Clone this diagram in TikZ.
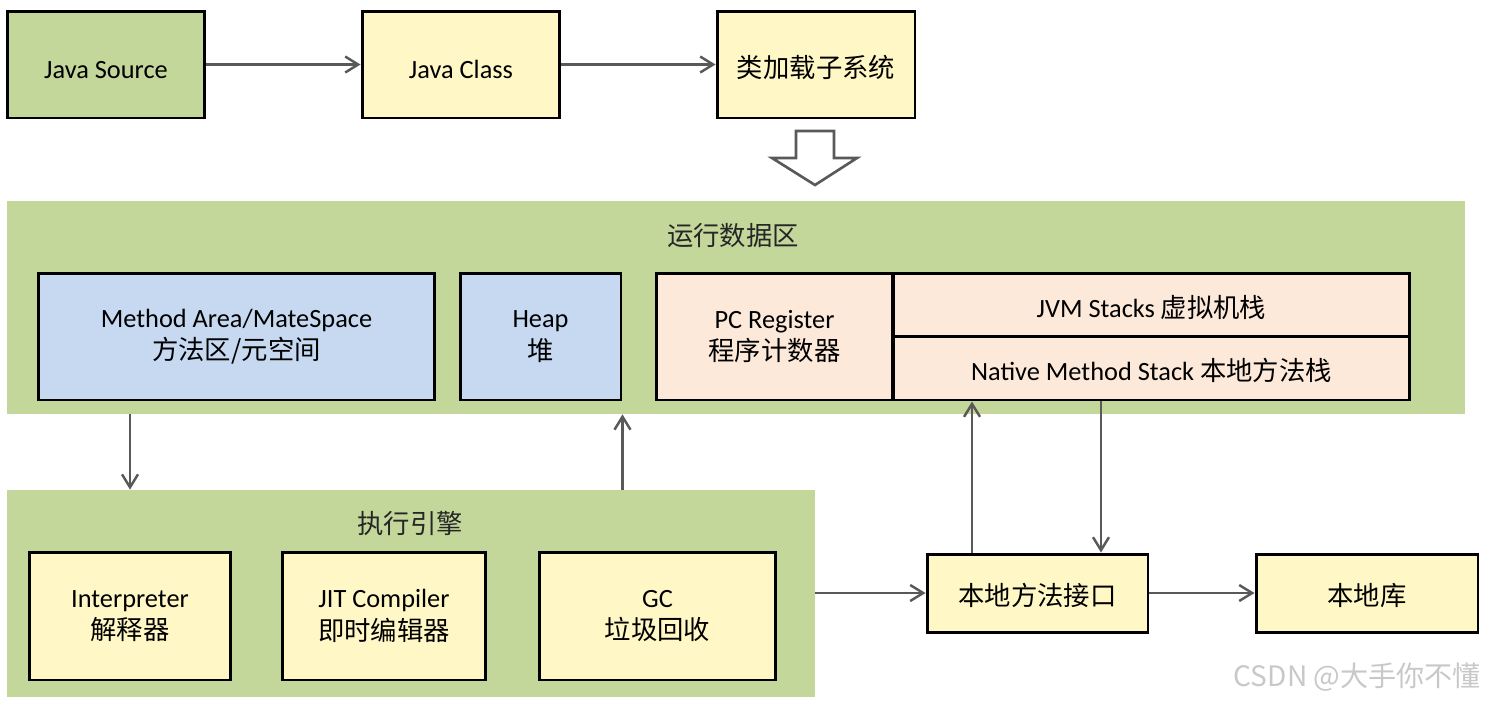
\documentclass[tikz,border=0pt]{standalone}
\usepackage{fontspec}
\setmainfont{Carlito}
\newfontfamily\cjk{Noto Sans CJK SC}
\usetikzlibrary{arrows.meta,positioning}
\definecolor{panelgreen}{HTML}{C4D79B}
\definecolor{boxyellow}{HTML}{FFF8C6}
\definecolor{boxblue}{HTML}{C6D9F1}
\definecolor{boxpeach}{HTML}{FDE9D9}
\definecolor{linegray}{HTML}{595959}
\definecolor{markgray}{HTML}{C8C8C8}
\begin{document}
\begin{tikzpicture}[x=0.02cm, y=-0.02cm,
	box/.style = {draw, line width=1.7pt, rectangle, align=center, font=\fontsize{15}{18.5}\selectfont, inner sep=0pt, execute at begin node={\rule{0pt}{1.05em}}},
	panel/.style = {fill=panelgreen, rectangle, inner sep=0pt},
	arr/.style = {draw=linegray, line width=1.4pt, -{Straight Barb[length=2.6mm,width=3.2mm,line width=1.4pt]}},
	title/.style = {font=\fontsize{15}{18}\selectfont\cjk, text=black!85}]
	\useasboundingbox (0,0) rectangle (1490,704);
	\node[box, fill=panelgreen, minimum width=3.96cm, minimum height=2.14cm] (src) at (106,64.5) {Java Source};
	\node[box, fill=boxyellow, minimum width=3.96cm, minimum height=2.14cm] (cls) at (461,64.5) {Java Class};
	\node[box, fill=boxyellow, minimum width=3.96cm, minimum height=2.14cm] (loader) at (816,64.5) {\cjk 类加载子系统};
	\draw[arr] (src) -- (cls);
	\draw[arr] (cls) -- (loader);
	\draw[linegray, line width=1.5pt, fill=white] (796,131) -- (834,131) -- (834,158) -- (857,158) -- (815,185) -- (772,158) -- (796,158) -- cycle;
	\node[panel, minimum width=29.16cm, minimum height=4.26cm] (rt) at (736,307.5) {};
	\node[title] at (733,236) {运行数据区};
	\node[box, fill=boxblue, minimum width=7.94cm, minimum height=2.54cm] (method) at (236.5,336.5) {Method Area/MateSpace\\{\cjk 方法区/元空间}};
	\node[box, fill=boxblue, minimum width=3.22cm, minimum height=2.54cm] (heap) at (540.5,336.5) {Heap\\{\cjk 堆}};
	\node[box, fill=boxpeach, minimum width=4.74cm, minimum height=2.54cm] (pc) at (774.5,336.5) {PC Register\\{\cjk 程序计数器}};
	\node[box, fill=boxpeach, minimum width=10.34cm, minimum height=1.26cm] (jvms) at (1151.5,304.5) {JVM Stacks {\cjk 虚拟机栈}};
	\node[box, fill=boxpeach, minimum width=10.34cm, minimum height=1.28cm] (native) at (1151.5,368) {Native Method Stack {\cjk 本地方法栈}};
	\node[panel, minimum width=16.16cm, minimum height=4.14cm] (exec) at (411,593.5) {};
	\node[title] at (410,523) {执行引擎};
	\node[box, fill=boxyellow, minimum width=4.04cm, minimum height=2.56cm] (interp) at (130,616) {Interpreter\\{\cjk 解释器}};
	\node[box, fill=boxyellow, minimum width=4.08cm, minimum height=2.56cm] (jit) at (384,616) {JIT Compiler\\{\cjk 即时编辑器}};
	\node[box, fill=boxyellow, minimum width=4.74cm, minimum height=2.56cm] (gc) at (657.5,616) {GC\\{\cjk 垃圾回收}};
	\node[box, fill=boxyellow, minimum width=4.42cm, minimum height=1.56cm] (jni) at (1037.5,593) {\cjk 本地方法接口};
	\node[box, fill=boxyellow, minimum width=4.44cm, minimum height=1.56cm] (lib) at (1367,593) {\cjk 本地库};
	\draw[arr] (rt.south -| interp) -- (exec.north -| interp);
	\draw[arr] (exec.north -| heap.east) -- (rt.south -| heap.east);
	\draw[arr] ([xshift=-1.31cm]jni.north) -- ([xshift=-1.31cm]jni.north |- native.south);
	\draw[arr] ([xshift=1.27cm]jni.north |- native.south) -- ([xshift=1.27cm]jni.north);
	\draw[arr] (exec.east |- jni) -- (jni.west);
	\draw[arr] (jni) -- (lib);
	\node[anchor=east, text=markgray, font=\fontsize{16}{19}\selectfont\cjk] (mark) at (1487,677) {CSDN @大手你不懂};
\end{tikzpicture}
\end{document}
